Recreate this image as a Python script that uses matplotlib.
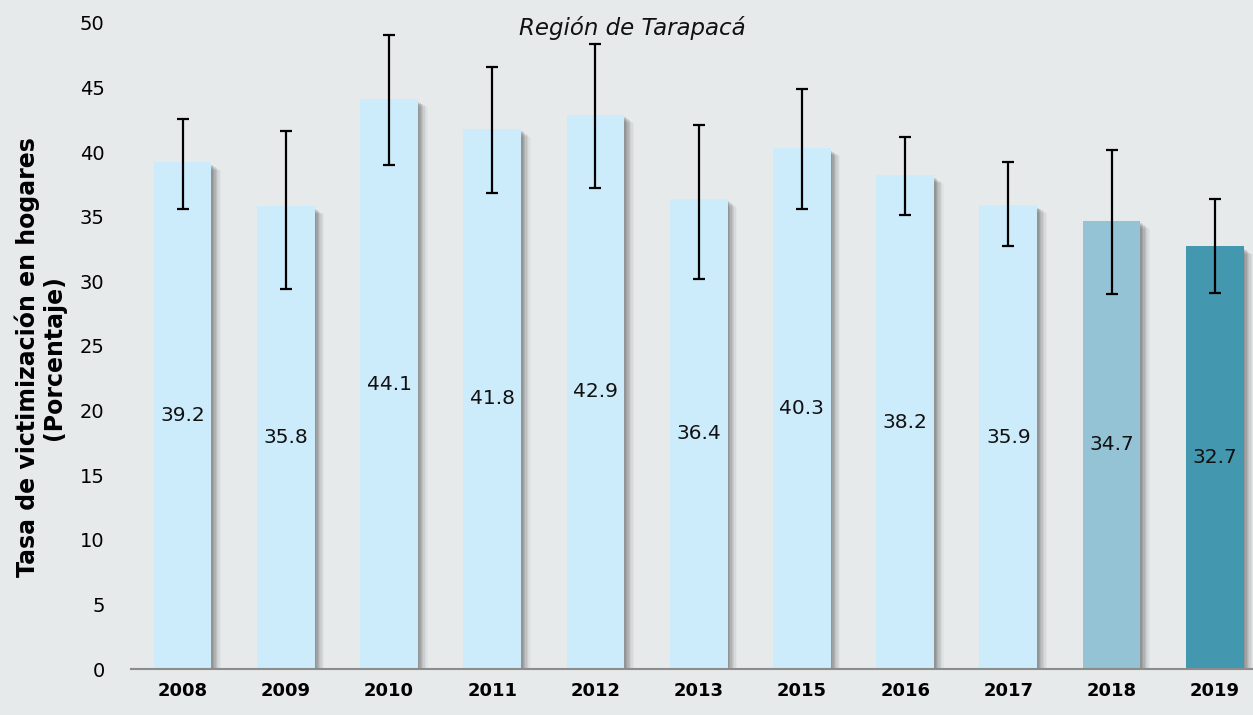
import numpy as np
import matplotlib.pyplot as plt

# data
years = ['2008', '2009', '2010', '2011', '2012', '2013', '2015', '2016', '2017', '2018', '2019']
values = [39.2, 35.8, 44.1, 41.8, 42.9, 36.4, 40.3, 38.2, 35.9, 34.7, 32.7]
upper = [42.6, 41.6, 49.1, 46.6, 48.4, 42.1, 44.9, 41.2, 39.2, 40.2, 36.4]
lower = [35.6, 29.4, 39.0, 36.8, 37.2, 30.2, 35.6, 35.1, 32.7, 29.0, 29.1]

bg = '#E6EAEB'
light = '#CCEBFB'
colors = [light] * 9 + ['#93C3D5', '#4397AE']

plt.rcParams['font.family'] = ['DejaVu Sans']

fig = plt.figure(figsize=(12.53, 7.15), dpi=100, facecolor=bg)
ax = fig.add_axes([0.1045, 0.0643, 0.8955, 0.9037])
ax.set_facecolor(bg)

x = np.arange(len(years))
w = 0.56

# soft shadow to the right of each bar
for i, a in enumerate([0.16, 0.14, 0.12, 0.10, 0.08, 0.06, 0.04]):
    dx = 0.015 + i * 0.013
    dy = 0.2 + i * 0.07
    ax.bar(x + dx, np.array(values) - dy, width=w, color='#4a4a4a', alpha=a,
           zorder=1, linewidth=0)

ax.bar(x, values, width=w, color=colors, zorder=2, linewidth=0)

yerr = [np.array(values) - np.array(lower), np.array(upper) - np.array(values)]
ax.errorbar(x, values, yerr=yerr, fmt='none', ecolor='black', elinewidth=1.6,
            capsize=4.5, capthick=1.6, zorder=4)

for xi, v in zip(x, values):
    ax.text(xi, v / 2, f'{v:.1f}', ha='center', va='center', fontsize=14.5,
            color='#111111', zorder=5)

ax.set_xlim(-0.5, 10.37)
ax.set_ylim(0, 50)
ax.set_yticks(range(0, 51, 5))
ax.set_xticks(x)
ax.set_xticklabels(years, fontweight='bold', fontsize=13)
ax.tick_params(axis='both', length=0)
ax.tick_params(axis='y', labelsize=14, pad=19)
ax.tick_params(axis='x', pad=9)

for s in ['top', 'right', 'left']:
    ax.spines[s].set_visible(False)
ax.spines['bottom'].set_color('#8C8C8C')
ax.spines['bottom'].set_linewidth(1.5)

fig.text(0.505, 0.961, 'Región de Tarapacá', ha='center', va='center',
         fontsize=16.5, style='italic', color='#111111')

fig.text(0.032, 0.50, 'Tasa de victimización en hogares\n(Porcentaje)',
         rotation=90, ha='center', va='center', fontsize=17,
         fontweight='bold', linespacing=1.1)

fig.savefig('out.png', dpi=100, facecolor=bg)
